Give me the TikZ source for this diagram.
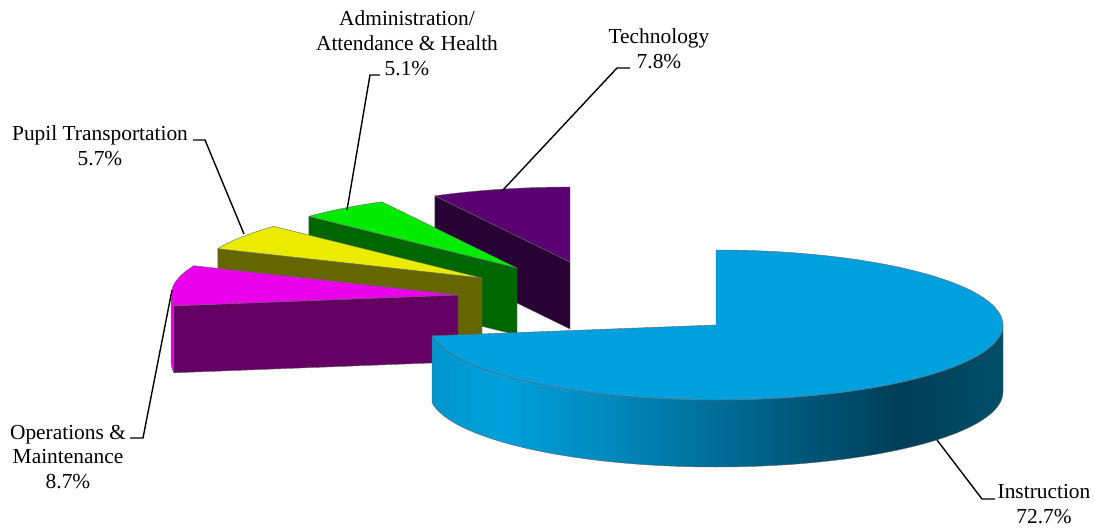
\documentclass[tikz,border=0pt]{standalone}
\usepackage{fontspec}
\setmainfont{Liberation Serif}
\usepackage{tikz}
\definecolor{instrTop}{RGB}{0,160,222}
\definecolor{instrA}{RGB}{0,150,205}
\definecolor{instrB}{RGB}{0,160,220}
\definecolor{instrC}{RGB}{0,138,190}
\definecolor{instrD}{RGB}{0,62,88}
\definecolor{instrE}{RGB}{0,78,105}
\definecolor{techTop}{RGB}{90,0,112}
\definecolor{techSide}{RGB}{40,0,52}
\definecolor{adminTop}{RGB}{0,235,0}
\definecolor{adminSide}{RGB}{0,102,0}
\definecolor{pupilTop}{RGB}{235,235,0}
\definecolor{pupilSide}{RGB}{102,102,0}
\definecolor{omTop}{RGB}{235,0,235}
\definecolor{omSide}{RGB}{100,0,100}
\pgfdeclarehorizontalshading{instrSide}{100bp}{color(0bp)=(instrA); color(25bp)=(instrA); color(31bp)=(instrB); color(40bp)=(instrC); color(66bp)=(instrD); color(75bp)=(instrE); color(100bp)=(instrE)}

\begin{document}
\begin{tikzpicture}[x = 1pt, y = 1pt,
		face/.style = {draw = black!60, line width = 0.4pt, line join = round},
		leader/.style = {draw = black, line width = 1.4pt},
		lbl/.style = {align = center, inner sep = 0pt, font = \fontsize{21.4}{24.8}\selectfont}]
		\useasboundingbox (0, 0) rectangle (1095, -529);
		%%%%%%%%%%%%%
		\coordinate (techC) at (570, -262);
		\coordinate (adminC) at (517, -268);
		\coordinate (pupilC) at (482, -278);
		\coordinate (omC) at (458, -295);
		\coordinate (instrC) at (716, -325);
		%%%%%%%%%%%%%
		\node[lbl] (admin) at (407, -43) {Administration/\\Attendance \& Health\\5.1\%};
		\node[lbl] (tech) at (659, -49) {Technology\\7.8\%};
		\node[lbl] (pupil) at (100, -146) {Pupil Transportation\\5.7\%};
		\node[lbl] (om) at (68, -457) {Operations \&\\Maintenance\\8.7\%};
		\node[lbl] (instr) at (1044, -504) {Instruction\\72.7\%};
		%%%%%%%%%%%%%
		\coordinate (adminTick) at (380, -75); \coordinate (adminPt) at (347, -210);
		\coordinate (techTick) at (630, -68); \coordinate (techPt) at (502, -191);
		\coordinate (pupilTick) at (193, -140); \coordinate (pupilPt) at (244, -234);
		\coordinate (omTick) at (130, -438); \coordinate (omPt) at (172, -290);
		\coordinate (instrTick) at (995, -499); \coordinate (instrPt) at (937, -440);
		%%%%%%%%%%%%%
		% technology
		\draw [face, fill = techSide] (techC) -- ++(118.1:287 and 75) -- ++(0, -67) -- ([yshift = -67]techC) -- cycle;
		\draw [face, fill = techTop] (techC) -- ++(90:287 and 75) arc [start angle = 90, end angle = 118.1, x radius = 287, y radius = 75] -- cycle;
		% administration
		\draw [face, fill = adminSide] (adminC) -- ++(136.5:287 and 75) -- ++(0, -67) -- ([yshift = -67]adminC) -- cycle;
		\draw [face, fill = adminTop] (adminC) -- ++(118.1:287 and 75) arc [start angle = 118.1, end angle = 136.5, x radius = 287, y radius = 75] -- cycle;
		% pupil transportation
		\draw [face, fill = pupilSide] (pupilC) -- ++(157:287 and 75) -- ++(0, -67) -- ([yshift = -67]pupilC) -- cycle;
		\draw [face, fill = pupilTop] (pupilC) -- ++(136.5:287 and 75) arc [start angle = 136.5, end angle = 157, x radius = 287, y radius = 75] -- cycle;
		% operations
		\draw [face, fill = omTop] (omC) ++(180:287 and 75) arc [start angle = 180, end angle = 188.3, x radius = 287, y radius = 75] -- ++(0, -67) arc [start angle = 188.3, end angle = 180, x radius = 287, y radius = 75] -- cycle;
		\draw [face, fill = omSide] (omC) -- ++(188.3:287 and 75) -- ++(0, -67) -- ([yshift = -67]omC) -- cycle;
		\draw [face, fill = omTop] (omC) -- ++(157:287 and 75) arc [start angle = 157, end angle = 188.3, x radius = 287, y radius = 75] -- cycle;
		% instruction
		\shade [face, shading = instrSide] (instrC) ++(188.3:287 and 75) arc [start angle = 188.3, end angle = 360, x radius = 287, y radius = 75] -- ++(0, -67) arc [start angle = 360, end angle = 188.3, x radius = 287, y radius = 75] -- cycle;
		\draw [face, fill = instrTop] (instrC) -- ++(188.3:287 and 75) arc [start angle = 188.3, end angle = 450, x radius = 287, y radius = 75] -- cycle;
		%%%%%%%%%%%%%
		\draw [leader] (adminTick) -- ++(-10, 0) -- (adminPt);
		\draw [leader] (techTick) -- ++(-13, 0) -- (techPt);
		\draw [leader] (pupilTick) -- ++(12, 0) -- (pupilPt);
		\draw [leader] (omTick) -- ++(13, 0) -- (omPt);
		\draw [leader] (instrTick) -- ++(-13, 0) -- (instrPt);
\end{tikzpicture}
\end{document}
